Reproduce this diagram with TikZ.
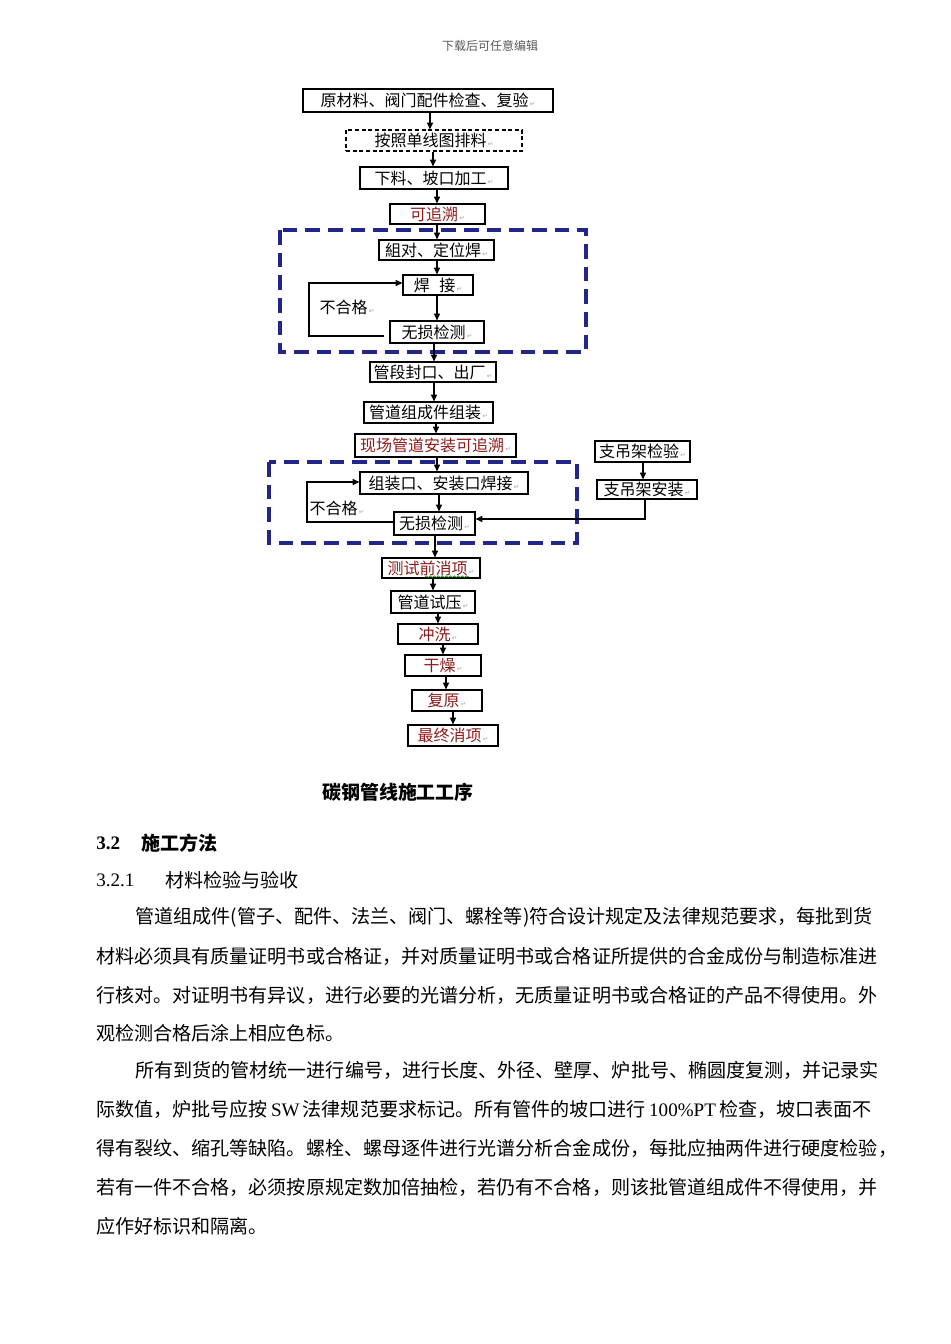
\documentclass[tikz,border=0pt]{standalone}
\usepackage{fontspec}
\setmainfont{Noto Sans CJK SC}
\newfontfamily\lser{Liberation Serif}
\newfontfamily\dvfont{DejaVu Sans}
\usetikzlibrary{arrows.meta,calc,decorations.pathmorphing}
\definecolor{dred}{HTML}{8E1B1B}
\definecolor{mynavy}{HTML}{22268A}
\newcommand\pmk{{\dvfont\fontsize{5}{5}\selectfont\textcolor{gray!70}{\,↵}}}
\tikzset{
 sz/.style 2 args={minimum width=#1*0.75pt, minimum height=#2*0.75pt},
 box/.style={draw=black, line width=0.9pt, inner sep=0pt, font=\fontsize{12}{14}\selectfont},
 rbox/.style={box, text=dred},
 dbox/.style={box, dash pattern=on 3pt off 2pt},
 arr/.style={-{Triangle[length=5pt,width=4.5pt]}, line width=0.8pt},
 ln/.style={line width=0.8pt},
 grp/.style={draw=mynavy, line width=2.3pt, dash pattern=on 11pt off 6pt},
 lbl/.style={inner sep=0pt, font=\fontsize{12}{14}\selectfont},
 body/.style={anchor=west, inner sep=0pt, font=\fontsize{14.3}{16}\selectfont},
 head/.style={anchor=west, inner sep=0pt, font=\fontsize{14.3}{16}\selectfont\bfseries},
}
\begin{document}
\begin{tikzpicture}[x=0.75pt,y=-0.75pt]
\useasboundingbox (0,0) rectangle (950,1344);
\fill[white] (0,0) rectangle (950,1344);

\node[inner sep=0pt, text=black!65, font=\fontsize{9}{10}\selectfont] (hdr) at (490,46) {下载后可任意编辑};

% flow chart boxes
\node[box, sz={250}{23}] (n1) at (428,100.5) {原材料、阀门配件检查、复验\pmk};
\node[dbox, sz={176}{21}] (n2) at (434,140.5) {按照单线图排料\pmk};
\node[box, sz={148}{22}] (n3) at (434,178) {下料、坡口加工\pmk};
\node[rbox, sz={95}{20}] (n4) at (437.5,214) {可追溯\pmk};

\draw[grp] (280,230) rectangle (586,352);
\node[box, sz={115}{20}] (n5) at (436.5,250) {組对、定位焊\pmk};
\node[box, sz={70}{20}] (n6) at (438,285) {焊\hspace{0.6em}接\pmk};
\node[box, sz={94}{22}] (n7) at (437,332) {无损检测\pmk};
\node[lbl] (l1) at (347,307) {不合格\pmk};

\node[box, sz={126}{20}] (n8) at (433,372) {管段封口、出厂\pmk};
\node[box, sz={129}{21}] (n9) at (428.5,412.5) {管道组成件组装\pmk};
\node[rbox, sz={161}{23}] (n10) at (435.5,445.5) {现场管道安装可追溯\pmk};

\draw[grp] (269,462) rectangle (577,543);
\node[box, sz={168}{22}] (n11) at (444,483) {组装口、安装口焊接\pmk};
\node[box, sz={81}{23}] (n12) at (434.5,523.5) {无损检测\pmk};
\node[lbl] (l2) at (337,508) {不合格\pmk};

\node[box, sz={95}{21}] (n13) at (642.5,451.5) {支吊架检验\pmk};
\node[box, sz={100}{19}] (n14) at (647,489.5) {支吊架安装\pmk};

\node[rbox, sz={98}{20}] (n15) at (431,568) {测试前消项\pmk};
\node[box, sz={84}{22}] (n16) at (433,602) {管道试压\pmk};
\node[rbox, sz={80}{20}] (n17) at (438,634) {冲洗\pmk};
\node[rbox, sz={76}{21}] (n18) at (443,665.5) {干燥\pmk};
\node[rbox, sz={70}{21}] (n19) at (447,700.5) {复原\pmk};
\node[rbox, sz={90}{21}] (n20) at (453,735.5) {最终消项\pmk};

% spell-check wave under 消项
\draw[green!60!black, line width=0.5pt, decorate, decoration={snake, amplitude=0.6pt, segment length=3pt}]
  ($(n15.south)+(-6,-2)$) -- ($(n15.south)+(38,-2)$);

% vertical arrows
\draw[arr] (n1.south -| 430,0) -- (n2.north -| 430,0);
\draw[arr] (n2.south -| 433,0) -- (n3.north -| 433,0);
\draw[arr] (n3.south -| 437,0) -- (n4.north -| 437,0);
\draw[arr] (n4.south -| 437,0) -- (n5.north -| 437,0);
\draw[arr] (n5.south -| 437,0) -- (n6.north -| 437,0);
\draw[arr] (n6.south -| 437,0) -- (n7.north -| 437,0);
\draw[arr] (n7.south -| 434,0) -- (n8.north -| 434,0);
\draw[arr] (n8.south -| 434,0) -- (n9.north -| 434,0);
\draw[arr] (n9.south -| 436,0) -- (n10.north -| 436,0);
\draw[arr] (n10.south -| 437,0) -- (n11.north -| 437,0);
\draw[arr] (n11.south -| 439,0) -- (n12.north -| 439,0);
\draw[arr] (n12.south -| 435,0) -- (n15.north -| 435,0);
\draw[arr] (n15.south -| 433,0) -- (n16.north -| 433,0);
\draw[arr] (n16.south -| 438,0) -- (n17.north -| 438,0);
\draw[arr] (n17.south -| 443,0) -- (n18.north -| 443,0);
\draw[arr] (n18.south -| 446,0) -- (n19.north -| 446,0);
\draw[arr] (n19.south -| 453,0) -- (n20.north -| 453,0);
\draw[arr] (n13.south -| 643,0) -- (n14.north -| 643,0);

% loops
\draw[arr] ($(n7.west)+(-5,4)$) -- (309,336) |- ($(n6.west)+(0,-2)$);
\draw[arr] ($(n12.west)+(0,-1.5)$) -- (307,522) |- ($(n11.west)+(0,-1)$);
\draw[arr] (n14.south -| 645,0) |- ($(n12.east)+(0,-4.5)$);

% caption and body text
\node[inner sep=0pt, font=\fontsize{14.2}{16}\selectfont\bfseries] (cap) at (398,792) {碳钢管线施工工序};
\node[head] (h1) at (96,843) {{\lser\bfseries 3.2}};
\node[head] (h1t) at (141,843) {施工方法};
\node[body] (h2) at (96,880) {{\lser 3.2.1}};
\node[body] (h2t) at (165,880) {材料检验与验收};

\node[body] (p1a) at (135,917) {管道组成件(管子、配件、法兰、阀门、螺栓等)符合设计规定及法律规范要求，每批到货};
\node[body] (p1b) at (96,956) {材料必须具有质量证明书或合格证，并对质量证明书或合格证所提供的合金成份与制造标准进};
\node[body] (p1c) at (96,995) {行核对。对证明书有异议，进行必要的光谱分析，无质量证明书或合格证的产品不得使用。外};
\node[body] (p1d) at (96,1033) {观检测合格后涂上相应色标。};

\node[body] (p2a) at (135,1070) {所有到货的管材统一进行编号，进行长度、外径、壁厚、炉批号、椭圆度复测，并记录实};
\node[body] (p2b) at (96,1109) {际数值，炉批号应按{\lser\,SW\,}法律规范要求标记。所有管件的坡口进行{\lser\,100\%PT\,}检查，坡口表面不};
\node[body] (p2c) at (96,1148) {得有裂纹、缩孔等缺陷。螺栓、螺母逐件进行光谱分析合金成份，每批应抽两件进行硬度检验，};
\node[body] (p2d) at (96,1187) {若有一件不合格，必须按原规定数加倍抽检，若仍有不合格，则该批管道组成件不得使用，并};
\node[body] (p2e) at (96,1226) {应作好标识和隔离。};
\end{tikzpicture}
\end{document}
